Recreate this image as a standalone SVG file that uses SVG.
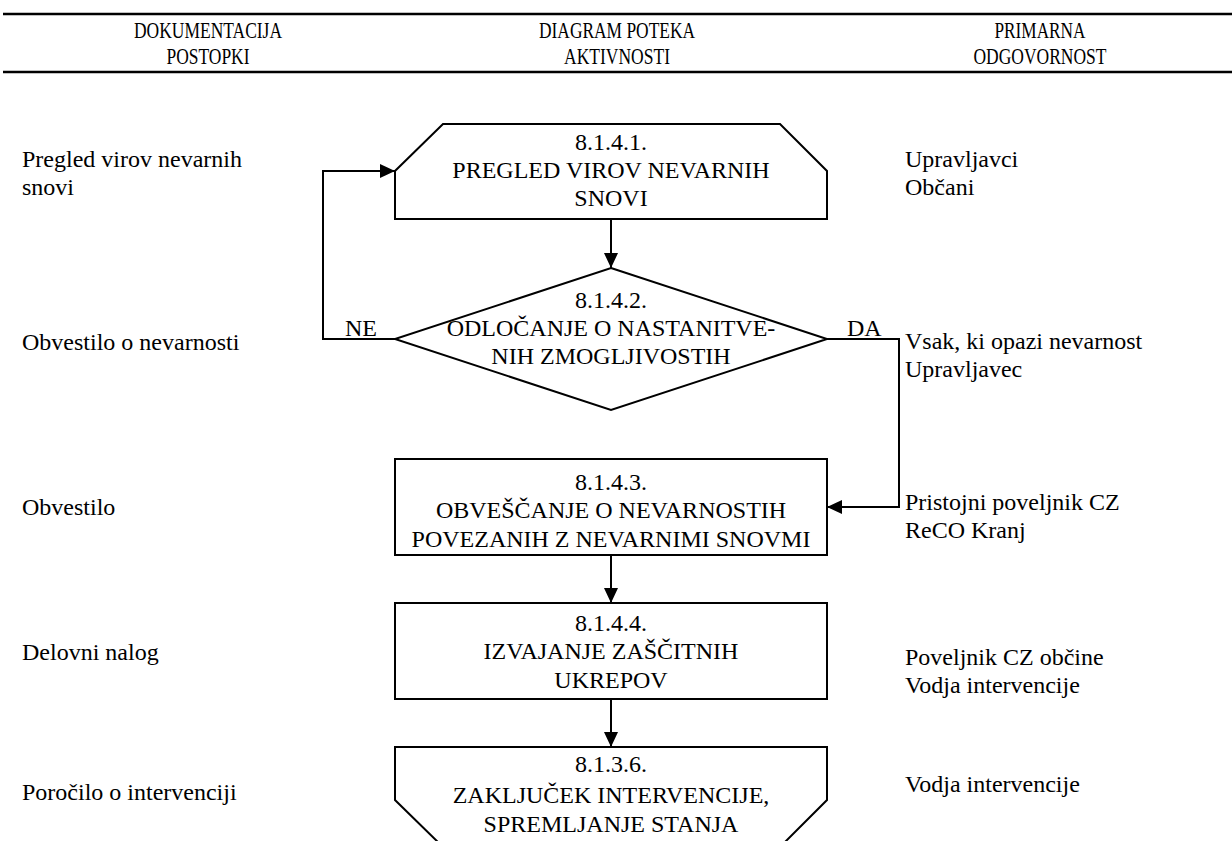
<svg xmlns="http://www.w3.org/2000/svg" width="1232" height="841" viewBox="0 0 1232 841">
<style>
text{font-family:"Liberation Serif","Times New Roman",serif;font-size:24px;fill:#000}
.c{text-anchor:middle}
.shape{fill:#fff;stroke:#000;stroke-width:2}
.conn{fill:none;stroke:#000;stroke-width:2}
.rule{stroke:#000;stroke-width:2.5}
</style>
<defs>
<marker id="ah" markerUnits="userSpaceOnUse" markerWidth="16" markerHeight="14" refX="15" refY="7" orient="auto">
<path d="M0,0 L15,7 L0,14 z" fill="#000"/>
</marker>
</defs>
<rect width="1232" height="841" fill="#fff"/>
<g id="header">
<line class="rule" x1="3" y1="14" x2="1232" y2="14"/>
<line class="rule" x1="3" y1="72" x2="1232" y2="72"/>
<text class="c" x="208" y="38" textLength="148" lengthAdjust="spacingAndGlyphs">DOKUMENTACIJA</text>
<text class="c" x="208" y="64" textLength="83" lengthAdjust="spacingAndGlyphs">POSTOPKI</text>
<text class="c" x="617" y="38" textLength="156" lengthAdjust="spacingAndGlyphs">DIAGRAM POTEKA</text>
<text class="c" x="617" y="64" textLength="106" lengthAdjust="spacingAndGlyphs">AKTIVNOSTI</text>
<text class="c" x="1040" y="38" textLength="91" lengthAdjust="spacingAndGlyphs">PRIMARNA</text>
<text class="c" x="1040" y="64" textLength="133" lengthAdjust="spacingAndGlyphs">ODGOVORNOST</text>
</g>
<g id="connectors">
<path class="conn" d="M611,219 L611,268" marker-end="url(#ah)"/>
<path class="conn" d="M395,339 L323,339 L323,171 L395,171" marker-end="url(#ah)"/>
<path class="conn" d="M827,339 L899,339 L899,507 L827,507" marker-end="url(#ah)"/>
<path class="conn" d="M611,555 L611,603" marker-end="url(#ah)"/>
<path class="conn" d="M611,699 L611,747" marker-end="url(#ah)"/>
<text x="345" y="336">NE</text>
<text x="847" y="336">DA</text>
</g>
<g id="node1">
<polygon class="shape" points="395,219 395,171 443,124 780,124 827,171 827,219"/>
<text class="c" x="611" y="150">8.1.4.1.</text>
<text class="c" x="611" y="178">PREGLED VIROV NEVARNIH</text>
<text class="c" x="611" y="206">SNOVI</text>
</g>
<g id="node2">
<polygon class="shape" points="611,268 827,339 611,410 395,339"/>
<text class="c" x="611" y="308">8.1.4.2.</text>
<text class="c" x="611" y="336">ODLOČANJE O NASTANITVE-</text>
<text class="c" x="611" y="364">NIH ZMOGLJIVOSTIH</text>
</g>
<g id="node3">
<rect class="shape" x="395" y="459" width="432" height="96"/>
<text class="c" x="611" y="490">8.1.4.3.</text>
<text class="c" x="611" y="518">OBVEŠČANJE O NEVARNOSTIH</text>
<text class="c" x="611" y="547">POVEZANIH Z NEVARNIMI SNOVMI</text>
</g>
<g id="node4">
<rect class="shape" x="395" y="603" width="432" height="96"/>
<text class="c" x="611" y="631">8.1.4.4.</text>
<text class="c" x="611" y="659">IZVAJANJE ZAŠČITNIH</text>
<text class="c" x="611" y="688">UKREPOV</text>
</g>
<g id="node5">
<polygon class="shape" points="395,747 827,747 827,800 780,847 443,847 395,800"/>
<text class="c" x="611" y="772">8.1.3.6.</text>
<text class="c" x="611" y="803">ZAKLJUČEK INTERVENCIJE,</text>
<text class="c" x="611" y="832">SPREMLJANJE STANJA</text>
</g>
<g id="left-column">
<text x="22" y="167">Pregled virov nevarnih</text>
<text x="22" y="195">snovi</text>
<text x="22" y="350">Obvestilo o nevarnosti</text>
<text x="22" y="515">Obvestilo</text>
<text x="22" y="660">Delovni nalog</text>
<text x="22" y="800">Poročilo o intervenciji</text>
</g>
<g id="right-column">
<text x="905" y="167">Upravljavci</text>
<text x="905" y="195">Občani</text>
<text x="905" y="349">Vsak, ki opazi nevarnost</text>
<text x="905" y="377">Upravljavec</text>
<text x="905" y="510">Pristojni poveljnik CZ</text>
<text x="905" y="538">ReCO Kranj</text>
<text x="905" y="665">Poveljnik CZ občine</text>
<text x="905" y="693">Vodja intervencije</text>
<text x="905" y="792">Vodja intervencije</text>
</g>
</svg>
